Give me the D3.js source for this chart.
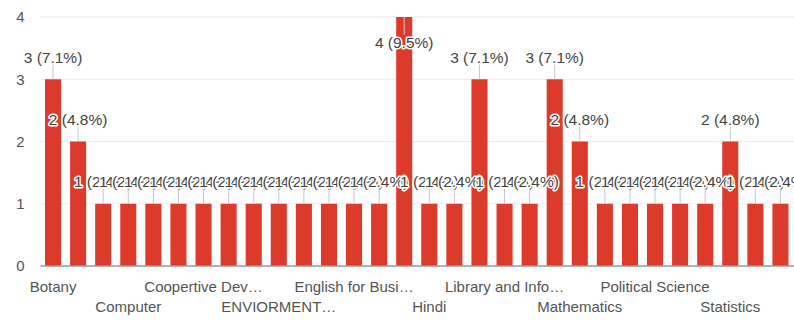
<!DOCTYPE html>
<html>
<head>
<meta charset="utf-8">
<script src="https://cdn.jsdelivr.net/npm/d3@7"></script>
<style>
  html, body { margin: 0; padding: 0; background: #fff; }
  svg { display: block; font-family: "Liberation Sans", Arial, sans-serif; }
</style>
</head>
<body>
<svg id="chart" width="794" height="320"></svg>
<script>
const categories = [
  "Botany", "Chemistry", "Commerce", "Computer", "Computer Science", "Cooperation",
  "Coopertive Dev…", "Economics", "Education", "ENVIORMENT…", "English", "English Literature",
  "English for Busi…", "Geography", "History", "Hindi", "Home Science", "Law",
  "Library and Info…", "Management", "Marathi", "Mathematics", "Microbiology", "Physics",
  "Political Science", "Psychology", "Sociology", "Statistics", "Urdu", "Zoology"
];
const counts = [3, 2, 1, 1, 1, 1, 1, 1, 1, 1, 1, 1, 1, 1, 4, 1, 1, 3, 1, 1, 3, 2, 1, 1, 1, 1, 1, 2, 1, 1];
const yTicks = [0, 1, 2, 3, 4];
const labelEvery = 3;

(function () {
const total = d3.sum(counts);
const data = categories.map((c, i) => ({ name: c, value: counts[i], idx: i }));

const svg = d3.select("#chart");
const W = 794;
const pLeft = 40.5, pRight = 793, pTop = 17, pBottom = 266;

const x = d3.scaleBand().domain(categories).range([pLeft, pRight]).paddingInner(0.36).paddingOuter(0.18);
const y = d3.scaleLinear().domain([0, 4]).range([pBottom, pTop]);

// gridlines
svg.append("g").selectAll("line").data(yTicks.filter(t => t > 0)).join("line")
  .attr("x1", pLeft).attr("x2", W)
  .attr("y1", d => y(d)).attr("y2", d => y(d))
  .attr("stroke", "#ebebeb").attr("stroke-width", 1);

// y axis labels
const yAxis = d3.axisLeft(y).tickValues(yTicks).tickSize(0).tickPadding(16).tickFormat(d3.format("d"));
const gy = svg.append("g").attr("transform", `translate(${pLeft},0)`).call(yAxis);
gy.select(".domain").remove();
gy.selectAll("text").attr("font-size", 15).attr("fill", "#555")
  .style("font-family", "'Liberation Sans', Arial, sans-serif");

// bars
svg.append("g").selectAll("rect").data(data).join("rect")
  .attr("x", d => x(d.name))
  .attr("y", d => y(d.value))
  .attr("width", x.bandwidth())
  .attr("height", d => y(0) - y(d.value))
  .attr("fill", "#dc3a2a");

// baseline
svg.append("line").attr("x1", pLeft).attr("x2", W)
  .attr("y1", y(0)).attr("y2", y(0))
  .attr("stroke", "#9a9a9a").attr("stroke-width", 1.5);

// x axis labels (every 3rd, staggered in two rows)
const xAxis = d3.axisBottom(x)
  .tickValues(categories.filter((c, i) => i % labelEvery === 0))
  .tickSize(0).tickPadding(0);
const gx = svg.append("g").attr("transform", `translate(0,${y(0)})`).call(xAxis);
gx.select(".domain").remove();
gx.selectAll(".tick text")
  .attr("font-size", 15).attr("fill", "#555")
  .style("font-family", "'Liberation Sans', Arial, sans-serif")
  .attr("dy", null)
  .attr("y", (d, k) => (k % 2 === 0 ? 26 : 46));

// value labels with leader lines
const fmt = v => `${v} (${d3.format(".1f")(v / total * 100)}%)`;
const lab = svg.append("g");
data.forEach(d => {
  const cx = x(d.name) + x.bandwidth() / 2;
  const barTop = y(d.value);
  let ly = barTop - 22;
  let lineY2 = barTop - 15;
  if (ly < 43) { ly = 43; lineY2 = 35; }
  lab.append("line")
    .attr("x1", cx).attr("x2", cx)
    .attr("y1", barTop).attr("y2", lineY2)
    .attr("stroke", "#c8c8c8").attr("stroke-width", 1);
  lab.append("text")
    .attr("x", cx).attr("y", ly)
    .attr("dy", "0.35em")
    .attr("text-anchor", "middle")
    .attr("font-size", 15.5)
    .attr("fill", "#444")
    .attr("stroke", "#fff").attr("stroke-width", 3)
    .attr("stroke-linejoin", "round")
    .style("paint-order", "stroke")
    .text(fmt(d.value));
});
})();
</script>
</body>
</html>
